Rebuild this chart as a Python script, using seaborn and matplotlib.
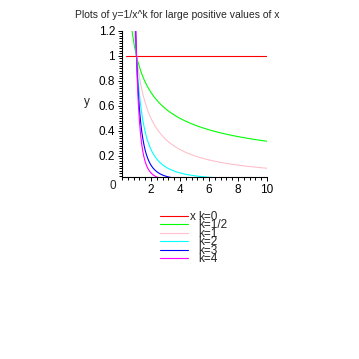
import numpy as np
import pandas as pd
import matplotlib
matplotlib.use("Agg")
import matplotlib.pyplot as plt
import seaborn as sns
from matplotlib.ticker import MultipleLocator

# data
k_values = [0, 0.5, 1, 2, 3, 4]
k_labels = ["k=0", "k=1/2", "k=1", "k=2", "k=3", "k=4"]
colors = ["#ff0000", "#00ff00", "#ffc0cb", "#00ffff", "#0000ff", "#ff00ff"]
x_values = np.linspace(0.3, 10, 400)
x_ticks = [2, 4, 6, 8, 10]
y_ticks = [0.2, 0.4, 0.6, 0.8, 1, 1.2]
title = "Plots of y=1/x^k for large positive values of x"

rows = []
for k, lab in zip(k_values, k_labels):
    for xv in x_values:
        rows.append({"x": xv, "y": 1.0 / xv ** k, "k": lab})
df = pd.DataFrame(rows)

sns.set_style("white")
plt.rcParams["font.family"] = ["Liberation Sans Narrow", "Liberation Sans", "DejaVu Sans"]

fig = plt.figure(figsize=(3.59, 3.59), dpi=100)
ax = fig.add_axes([0.3398, 0.507, 0.4039, 0.4067])
sns.lineplot(data=df, x="x", y="y", hue="k", palette=colors, legend=False,
             ax=ax, linewidth=0.8, sort=False, estimator=None)

ax.set_xlim(0, 10)
ax.set_ylim(0.03, 1.2)
ax.set_xticks(x_ticks)
ax.set_xticklabels([str(t) for t in x_ticks])
ax.set_yticks(y_ticks)
ax.set_yticklabels(["0.2", "0.4", "0.6", "0.8", "1", "1.2"])
ax.xaxis.set_minor_locator(MultipleLocator(0.4))
ax.yaxis.set_minor_locator(MultipleLocator(0.02))
ax.tick_params(axis="both", which="major", direction="out", length=3, width=0.7,
               labelsize=8.5, pad=2, color="black", labelcolor="black")
ax.tick_params(axis="both", which="minor", direction="out", length=2, width=0.7,
               color="black")
ax.tick_params(axis="x", which="both", bottom=True)
ax.tick_params(axis="y", which="both", left=True)
for s in ["top", "right"]:
    ax.spines[s].set_visible(False)
for s in ["left", "bottom"]:
    ax.spines[s].set_color("black")
    ax.spines[s].set_linewidth(0.8)
ax.set_facecolor("white")

ax.set_xlabel("x", fontsize=8.5)
ax.xaxis.set_label_coords(0.49, -0.235)
ax.set_ylabel("y", fontsize=8.5, rotation=0)
ax.yaxis.set_label_coords(-0.24, 0.47)
ax.text(-0.62, -0.042, "0", fontsize=8.5, ha="center", va="center", clip_on=False)

fig.suptitle(title, fontsize=7.5, y=0.972, x=0.495)

leg = fig.legend(handles=ax.lines[:6], labels=k_labels, loc="upper left",
                 bbox_to_anchor=(160 / 359, 1 - 211 / 359), frameon=False,
                 fontsize=8.5, handlelength=2.37, handletextpad=0.85,
                 labelspacing=-0.3, borderpad=0, borderaxespad=0)
for h in leg.legend_handles:
    h.set_linewidth(0.8)

fig.savefig("out.png", dpi=100, facecolor="white")
